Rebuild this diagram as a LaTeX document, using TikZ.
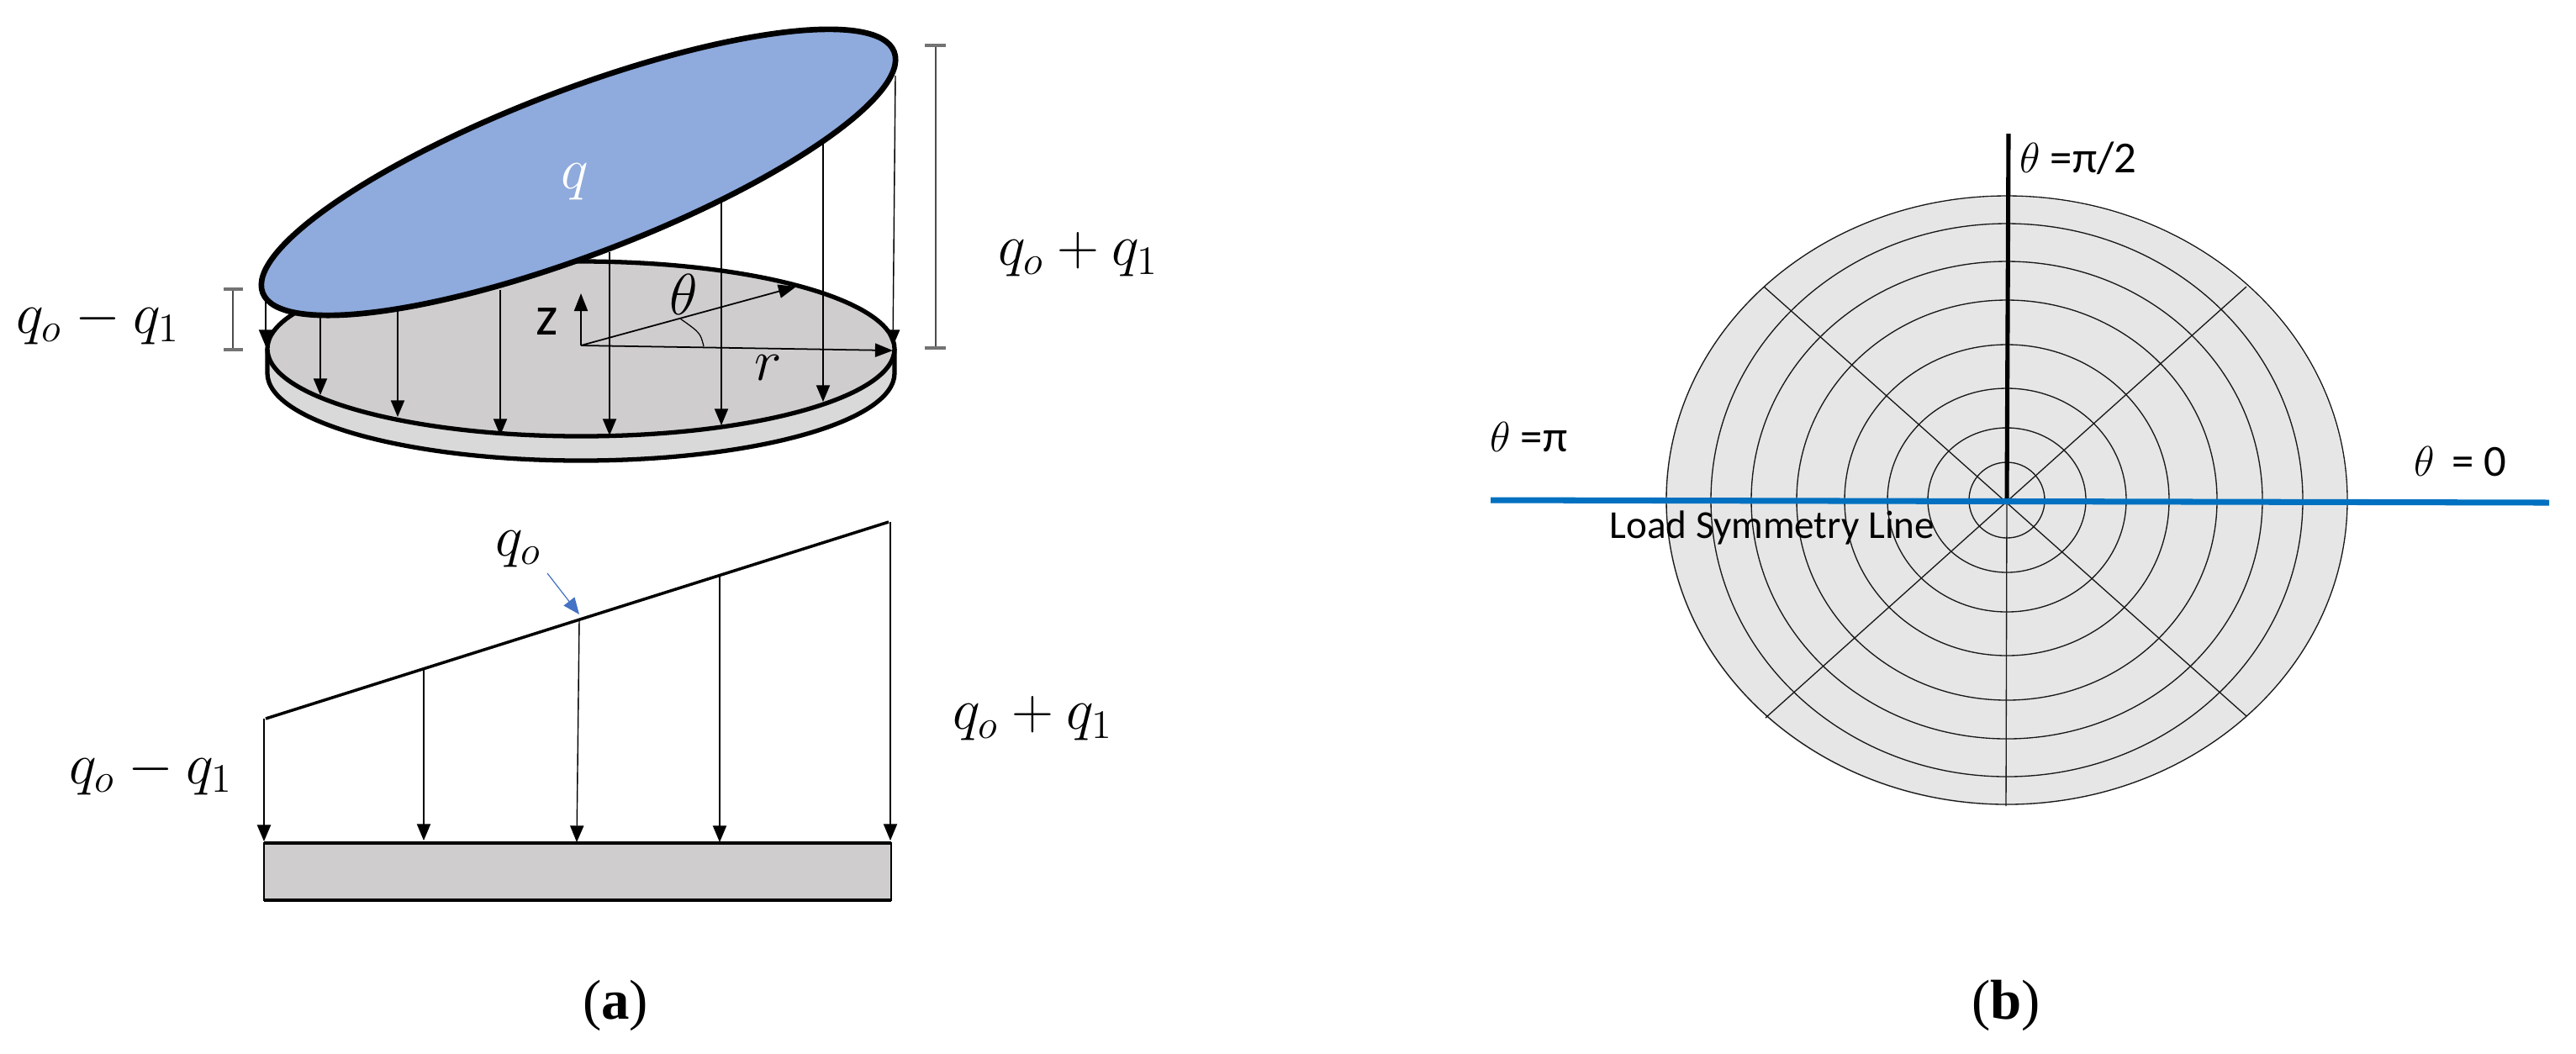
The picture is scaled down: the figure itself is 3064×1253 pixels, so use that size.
\documentclass[tikz,border=0pt]{standalone}
\usepackage{amsmath,amssymb}
\usepackage{xcolor}
\usepackage{fontspec}
\setmainfont{Carlito}
\newfontfamily\capfont{Liberation Serif}
\usetikzlibrary{arrows.meta,calc}
\definecolor{plateTop}{HTML}{CFCDCE}
\definecolor{plateSide}{HTML}{D9D9D9}
\definecolor{loadBlue}{HTML}{8FAADC}
\definecolor{arrowBlue}{HTML}{4472C4}
\definecolor{gridGray}{HTML}{E6E6E6}
\definecolor{lineBlue}{HTML}{0070C0}
\tikzset{
  loadarrow/.style={line width=0.4pt,-{Triangle[length=5.6pt,width=4.6pt]}},
  thinline/.style={line width=0.38pt,draw=black!90},
  heavyline/.style={line width=1.5pt},
  dimbar/.style={line width=0.35pt,draw=black!70},
  dimtick/.style={line width=1pt,draw=black!55},
  eqlabel/.style={font=\fontsize{20}{24}\selectfont,scale=0.95},
  smalllabel/.style={font=\fontsize{13.4}{16}\selectfont},
  anglelabel/.style={font=\fontsize{15}{18}\selectfont,anchor=west},
  capmark/.style={font=\capfont\fontsize{19}{22}\selectfont}
}
\begin{document}
\begin{tikzpicture}[x=0.01cm,y=-0.01cm]
    \useasboundingbox (0,0) rectangle (3064,1253);
    % Plate, seen from above
    \fill[plateSide] (318,415) -- (318,444) arc (180:0:373 and 104) -- (1064,415) -- cycle;
    \draw[heavyline] (318,415) -- (318,444) arc (180:0:373 and 104) -- (1064,415);
    \draw[heavyline,fill=plateTop] (691,415) ellipse [x radius=373, y radius=104];
    % Load arrows onto the plate
    \draw[loadarrow] (316,345) -- (316,412);
    \draw[loadarrow] (381,370) -- (381,470);
    \draw[loadarrow] (473,370) -- (473,496);
    \draw[loadarrow] (595,345) -- (595,518);
    \draw[loadarrow] (725,300) -- (725,518);
    \draw[loadarrow] (858,240) -- (858,506);
    \draw[loadarrow] (979,170) -- (979,478);
    \draw[loadarrow] (1065,90) -- (1062,412);
    % Axes on the plate
    \draw[line width=0.5pt,-{Triangle[length=6pt,width=4.6pt]}] (691,411) -- (691,349);
    \draw[line width=0.5pt,-{Triangle[length=6pt,width=4.6pt]}] (691,411) -- (1062,417);
    \draw[line width=0.5pt,-{Triangle[length=6pt,width=4.6pt]}] (691,411) -- (947,341);
    \draw[line width=0.35pt] (837,412) .. controls (833,396) .. (809,379);
    % Tilted load surface
    \draw[line width=1.9pt,fill=loadBlue,rotate around={20.9:(688,205)}] (688,205) ellipse [x radius=402, y radius=98];
    % Height bars
    \draw[dimbar] (1113,54) -- (1113,414);
    \draw[dimtick] (1100,54) -- (1125,54);
    \draw[dimtick] (1100,414) -- (1125,414);
    \draw[dimbar] (277,344) -- (277,416);
    \draw[dimtick] (266,344) -- (289,344);
    \draw[dimtick] (266,416) -- (289,416);
    % Labels of the plate
    \node[eqlabel] (sumTop) at (1283,303) {$q_o+q_1$};
    \node[eqlabel] (diffTop) at (117,383) {$q_o-q_1$};
    \node[eqlabel,white] (qMark) at (684,216) {$q$};
    \node[eqlabel] (zMark) at (651,383) {z};
    \node[eqlabel] (thetaMark) at (813,350) {$\theta$};
    \node[eqlabel] (rMark) at (914,438) {$r$};

    % Side view
    \draw[line width=0.35pt,fill=plateTop] (314,1003) rectangle (1060,1071);
    \draw[line width=1.1pt] (314,1003) -- (1060,1003);
    \draw[line width=1.1pt] (314,1071) -- (1060,1071);
    \draw[line width=1pt] (316,855) -- (1057,621);
    \draw[loadarrow,line width=0.55pt] (314,855) -- (314,1001);
    \draw[loadarrow] (504,797) -- (504,1000);
    \draw[loadarrow] (689,737) -- (686,1002);
    \draw[loadarrow] (856,685) -- (856,1002);
    \draw[loadarrow] (1059,621) -- (1059,1000);
    \draw[line width=0.35pt,draw=arrowBlue,-{Triangle[length=5.6pt,width=4.6pt]}] (651,682) -- (689,731);
    \node[eqlabel] (meanMark) at (617,653) {$q_o$};
    \node[eqlabel] (sumSide) at (1229,855) {$q_o+q_1$};
    \node[eqlabel] (diffSide) at (180,919) {$q_o-q_1$};
    \node[capmark] (capA) at (732,1196) {(\textbf{a})};

    % Polar grid
    \fill[gridGray] (2386,596) ellipse [x radius=405, y radius=362];
    \foreach \rx/\ry in {405/362,352/329,304/284,250/238,193/185,142/133,94/86,45/45}
      \draw[thinline] (2387,595) ellipse [x radius=\rx, y radius=\ry];
    \draw[thinline] (2098,341) -- (2672,852);
    \draw[thinline] (2672,341) -- (2100,854);
    \draw[thinline] (2387,595) -- (2386,959);
    \draw[line width=1.45pt] (2389,159) -- (2387,595);
    \draw[line width=2pt,draw=lineBlue] (1773,595) -- (3032,598);
    % Labels of the grid
    \node[anglelabel] (thetaUp) at (2390,188) {$\theta$ =π/2};
    \node[anglelabel] (thetaPi) at (1760,520) {$\theta$ =π};
    \node[anglelabel] (thetaZero) at (2859,549) {$\theta$\, = 0};
    \node[smalllabel,anchor=west] (symLine) at (1902,628) {Load Symmetry Line};
    \node[capmark] (capB) at (2386,1196) {(\textbf{b})};
\end{tikzpicture}
\end{document}
